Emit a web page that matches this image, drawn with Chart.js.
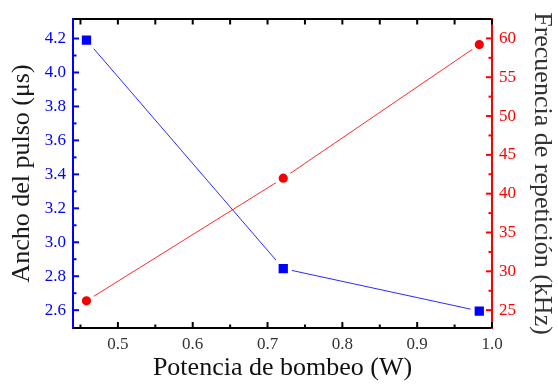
<!DOCTYPE html>
<html>
<head>
<meta charset="utf-8">
<script src="https://cdn.jsdelivr.net/npm/chart.js@4.4.0/dist/chart.umd.min.js"></script>
<style>
    html, body { margin: 0; padding: 0; background: #fff; }
    #wrap { width: 558px; height: 386px; }
</style>
</head>
<body>
<div id="wrap"><canvas id="chart"></canvas></div>
<script>
// pump power (W) and the two measured quantities
const potencia = [0.458, 0.721, 0.983];
const anchoPulso = [4.19, 2.845, 2.595];   // us
const frecuencia = [26.2, 42.0, 59.2];     // kHz

// tick positions: labelled majors, unlabelled minors
const xMajor = [0.5, 0.6, 0.7, 0.8, 0.9, 1.0];
const xMinor = [0.45, 0.55, 0.65, 0.75, 0.85, 0.95];
const yMajor = [2.6, 2.8, 3.0, 3.2, 3.4, 3.6, 3.8, 4.0, 4.2];
const yMinor = [2.7, 2.9, 3.1, 3.3, 3.5, 3.7, 3.9, 4.1];
const y1Major = [25, 30, 35, 40, 45, 50, 55, 60];
const y1Minor = [27.5, 32.5, 37.5, 42.5, 47.5, 52.5, 57.5];

const SERIF = "'Liberation Serif', 'Times New Roman', serif";

function has(list, v) {
    return list.some(function (m) { return Math.abs(m - v) < 1e-6; });
}
function setTicks(major, minor) {
    return function (scale) {
        scale.ticks = major.concat(minor).sort(function (a, b) { return a - b; })
            .map(function (v) { return { value: v }; });
    };
}

// Origin-style tick marks pointing into the plot
const innerTicks = {
    id: 'innerTicks',
    afterDraw(chart) {
        const ctx = chart.ctx;
        const area = chart.chartArea;
        const specs = {
            x:  { color: '#000', major: xMajor, big: 6, small: 3.5 },
            x2: { color: '#000', major: xMajor.concat(xMinor), big: 5.5, small: 5.5 },
            y:  { color: '#0000ff', major: yMajor, big: 6, small: 3.5 },
            y1: { color: '#ff0000', major: y1Major, big: 6, small: 3.5 }
        };
        ctx.save();
        ctx.lineWidth = 2;
        Object.keys(specs).forEach(function (id) {
            const scale = chart.scales[id];
            const s = specs[id];
            ctx.strokeStyle = s.color;
            scale.ticks.forEach(function (t) {
                const p = scale.getPixelForValue(t.value);
                const len = has(s.major, t.value) ? s.big : s.small;
                ctx.beginPath();
                if (id === 'x') { ctx.moveTo(p, area.bottom); ctx.lineTo(p, area.bottom - len); }
                if (id === 'x2') { ctx.moveTo(p, area.top); ctx.lineTo(p, area.top + len); }
                if (id === 'y') { ctx.moveTo(area.left, p); ctx.lineTo(area.left + len, p); }
                if (id === 'y1') { ctx.moveTo(area.right, p); ctx.lineTo(area.right - len, p); }
                ctx.stroke();
            });
        });
        ctx.restore();
    }
};

const ctx = document.getElementById('chart').getContext('2d');
const chart = new Chart(ctx, {
    type: 'line',
    data: {
        datasets: [{
            data: potencia.map(function (x, i) { return { x: x, y: anchoPulso[i] }; }),
            yAxisID: 'y',
            borderColor: '#2a2aff',
            borderWidth: 1,
            pointStyle: 'rect',
            pointRadius: 9.4,
            pointBackgroundColor: '#0000ff',
            pointBorderColor: '#ffffff',
            pointBorderWidth: 4
        }, {
            data: potencia.map(function (x, i) { return { x: x, y: frecuencia[i] }; }),
            yAxisID: 'y1',
            borderColor: '#ff2a2a',
            borderWidth: 1,
            pointStyle: 'circle',
            pointRadius: 6.6,
            pointBackgroundColor: '#f50000',
            pointBorderColor: '#ffffff',
            pointBorderWidth: 4
        }]
    },
    options: {
        responsive: true,
        maintainAspectRatio: false,
        animation: false,
        events: [],
        layout: { padding: 0 },
        plugins: { legend: { display: false }, tooltip: { enabled: false } },
        scales: {
            x: {
                type: 'linear',
                position: 'bottom',
                min: 0.44,
                max: 1.0,
                afterBuildTicks: setTicks(xMajor, xMinor),
                afterFit: function (scale) { scale.height = 58; },
                grid: { drawOnChartArea: false, drawTicks: false },
                border: { color: '#000', width: 2 },
                ticks: {
                    autoSkip: false,
                    maxRotation: 0,
                    padding: 6,
                    color: '#333',
                    font: { family: SERIF, size: 17 },
                    callback: function (v) { return has(xMajor, v) ? v.toFixed(1) : ''; }
                },
                title: {
                    display: true,
                    text: 'Potencia de bombeo (W)',
                    color: '#111',
                    font: { family: SERIF, size: 26 },
                    padding: { top: 0, bottom: 2 }
                }
            },
            x2: {
                type: 'linear',
                position: 'top',
                min: 0.44,
                max: 1.0,
                afterBuildTicks: setTicks(xMajor, xMinor),
                afterFit: function (scale) { scale.height = 19; },
                grid: { drawOnChartArea: false, drawTicks: false },
                border: { color: '#000', width: 2 },
                ticks: { display: false }
            },
            y: {
                type: 'linear',
                position: 'left',
                min: 2.495,
                max: 4.315,
                afterBuildTicks: setTicks(yMajor, yMinor),
                afterFit: function (scale) { scale.width = 73; },
                grid: { drawOnChartArea: false, drawTicks: false },
                border: { color: '#0000ff', width: 2 },
                ticks: {
                    autoSkip: false,
                    padding: 7,
                    color: '#0000ff',
                    font: { family: SERIF, size: 17 },
                    callback: function (v) { return has(yMajor, v) ? v.toFixed(1) : ''; }
                },
                title: {
                    display: true,
                    text: 'Ancho del pulso (\u03bcs)',
                    color: '#1a1a1a',
                    font: { family: SERIF, size: 26 },
                    padding: { top: 7, bottom: 0 }
                }
            },
            y1: {
                type: 'linear',
                position: 'right',
                min: 22.7,
                max: 62.5,
                afterBuildTicks: setTicks(y1Major, y1Minor),
                afterFit: function (scale) { scale.width = 66; },
                grid: { drawOnChartArea: false, drawTicks: false },
                border: { color: '#ff0000', width: 2 },
                ticks: {
                    autoSkip: false,
                    padding: 7,
                    color: '#ff0000',
                    font: { family: SERIF, size: 17 },
                    callback: function (v) { return has(y1Major, v) ? String(v) : ''; }
                },
                title: {
                    display: true,
                    text: 'Frecuencia de repetición (kHz)',
                    color: '#333',
                    font: { family: SERIF, size: 26 },
                    padding: { top: 1, bottom: 0 }
                }
            }
        }
    },
    plugins: [innerTicks]
});
</script>
</body>
</html>
